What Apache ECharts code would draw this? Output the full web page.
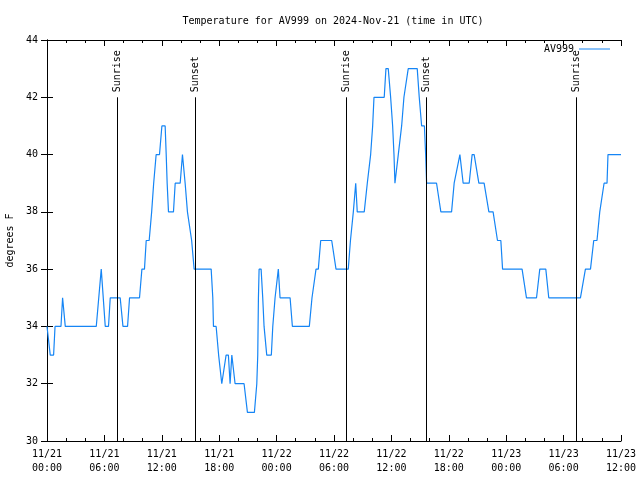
<!DOCTYPE html>
<html>
<head>
<meta charset="utf-8">
<script src="https://cdn.jsdelivr.net/npm/echarts@6/dist/echarts.min.js"></script>
<style>html,body{margin:0;padding:0;background:#fff}#c{width:640px;height:480px}</style>
</head>
<body>
<div id="c"></div>
<script>
// Hours since 2024-11-21 00:00 UTC
var hours = [0,0.19,0.34,0.69,0.84,1.46,1.63,1.70,1.91,5.15,5.67,5.74,6.09,6.43,6.61,7.65,7.94,8.42,8.63,9.67,9.92,10.19,10.37,10.68,10.94,11.15,11.41,11.76,12.01,12.35,12.46,12.56,12.70,13.22,13.40,13.92,14.16,14.34,14.44,14.68,14.86,15.12,15.38,
17.16,17.33,17.40,17.68,17.94,18.27,18.44,18.72,18.96,19.14,19.32,19.40,19.66,20.60,20.95,21.68,21.93,22.03,22.10,22.17,22.38,22.55,22.69,22.97,23.45,23.60,23.84,24.18,24.36,25.41,25.65,27.42,27.70,28.12,28.36,28.61,29.76,30.21,31.49,31.72,32.02,32.27,32.43,33.16,33.48,33.60,33.83,34.04,34.18,35.25,35.43,35.67,35.92,36.13,36.27,36.37,36.48,36.72,37.07,37.31,37.76,38.70,38.91,39.16,39.45,39.58,39.68,
40.72,41.17,42.29,42.56,42.74,43.16,43.50,44.13,44.44,44.65,45.14,45.69,46.19,46.63,47.09,47.44,47.62,49.66,50.12,51.17,51.51,52.14,52.45,55.76,56.28,56.81,57.15,57.49,57.78,58.23,58.54,58.64,60];
var temps = [34,34,33,33,34,34,35,35,34,34,36,36,34,34,35,35,34,34,35,35,36,36,37,37,38,39,40,40,41,41,40,39,38,38,39,39,40,40,39,38,38,37,36,
36,35,34,34,33,32,32,33,33,32,33,33,32,32,31,31,32,33,35,36,36,35,34,33,33,34,35,36,35,35,34,34,35,36,36,37,37,36,36,37,38,39,38,38,39,39,40,41,42,42,43,43,42,41,40,39,39,40,41,42,43,43,42,41,41,40,39,
39,38,38,39,39,40,39,39,40,40,39,39,38,38,37,37,36,36,35,35,36,36,35,35,36,36,37,37,38,39,39,40,40];
var sunTimes = [7.31, 15.52, 31.25, 39.57, 55.30];
var sunLabels = ['Sunrise', 'Sunset', 'Sunrise', 'Sunset', 'Sunrise'];
var xTickLabels = ['11/21\n00:00','11/21\n06:00','11/21\n12:00','11/21\n18:00','11/22\n00:00','11/22\n06:00','11/22\n12:00','11/22\n18:00','11/23\n00:00','11/23\n06:00','11/23\n12:00'];
var seriesName = 'AV999';
var titleText = 'Temperature for AV999 on 2024-Nov-21 (time in UTC)';
var yName = 'degrees F';

var FONT = 'DejaVu Sans Mono';
var chart = echarts.init(document.getElementById('c'), null, {renderer: 'canvas'});
var lineData = hours.map(function (h, i) { return [h, temps[i]]; });
var sunData = sunTimes.map(function (t, i) { return [t, i]; });

var xBase = {
  type: 'value', min: 0, max: 60, interval: 6,
  axisLine: {show: true, lineStyle: {color: '#000', width: 1}},
  axisTick: {show: true, inside: true, length: 6, lineStyle: {color: '#000'}},
  minorTick: {show: true, splitNumber: 3, length: 3, lineStyle: {color: '#000'}},
  splitLine: {show: false}
};
var yBase = {
  type: 'value', min: 30, max: 44, interval: 2,
  axisLine: {show: true, lineStyle: {color: '#000', width: 1}},
  axisTick: {show: true, inside: true, length: 6, lineStyle: {color: '#000'}},
  splitLine: {show: false}
};

chart.setOption({
  animation: false,
  backgroundColor: '#fff',
  textStyle: {fontFamily: FONT},
  title: {
    text: titleText, left: 328, top: 11, textAlign: 'center',
    textStyle: {fontFamily: FONT, fontSize: 10, fontWeight: 'normal', color: '#000'}
  },
  legend: {
    right: 25, top: 39, align: 'right', icon: 'rect', itemWidth: 31, itemHeight: 1, itemGap: 0,
    textStyle: {fontFamily: FONT, fontSize: 10, color: '#000'},
    data: [seriesName]
  },
  grid: {left: 47, top: 40, width: 574, height: 401, containLabel: false, outerBoundsMode: 'none'},
  xAxis: [
    Object.assign({}, xBase, {
      position: 'bottom',
      axisLabel: {
        show: true, margin: 6, color: '#000', fontFamily: FONT, fontSize: 10, lineHeight: 14,
        formatter: function (v) { return xTickLabels[Math.round(v / 6)] || ''; }
      }
    }),
    Object.assign({}, xBase, {position: 'top', axisLabel: {show: false}})
  ],
  yAxis: [
    Object.assign({}, yBase, {
      position: 'left',
      name: yName, nameLocation: 'middle', nameGap: 32, nameRotate: 90,
      nameTextStyle: {fontFamily: FONT, fontSize: 10, color: '#000'},
      axisLabel: {show: true, margin: 9, color: '#000', fontFamily: FONT, fontSize: 10}
    }),
    Object.assign({}, yBase, {position: 'right', axisLabel: {show: false}})
  ],
  series: [
    {
      name: seriesName, type: 'line', data: lineData,
      xAxisIndex: 0, yAxisIndex: 0,
      symbol: 'none', showSymbol: false,
      lineStyle: {color: '#1585f5', width: 1.2},
      itemStyle: {color: '#1585f5'},
      z: 2
    },
    {
      type: 'custom', data: sunData, xAxisIndex: 0, yAxisIndex: 0, z: 5, silent: true,
      renderItem: function (params, api) {
        var t = api.value(0);
        var idx = api.value(1);
        var p0 = api.coord([t, 30]);
        var p1 = api.coord([t, 42]);
        var x = Math.round(p0[0]) + 0.5;
        return {
          type: 'group',
          children: [
            {type: 'line', shape: {x1: x, y1: p0[1], x2: x, y2: p1[1]}, style: {stroke: '#000', lineWidth: 1}},
            {type: 'text', x: x, y: p1[1] - 5, rotation: Math.PI / 2,
              style: {text: sunLabels[idx], align: 'left', verticalAlign: 'middle', font: '10px "' + FONT + '"', fill: '#000'}}
          ]
        };
      }
    }
  ]
});
</script>
</body>
</html>
